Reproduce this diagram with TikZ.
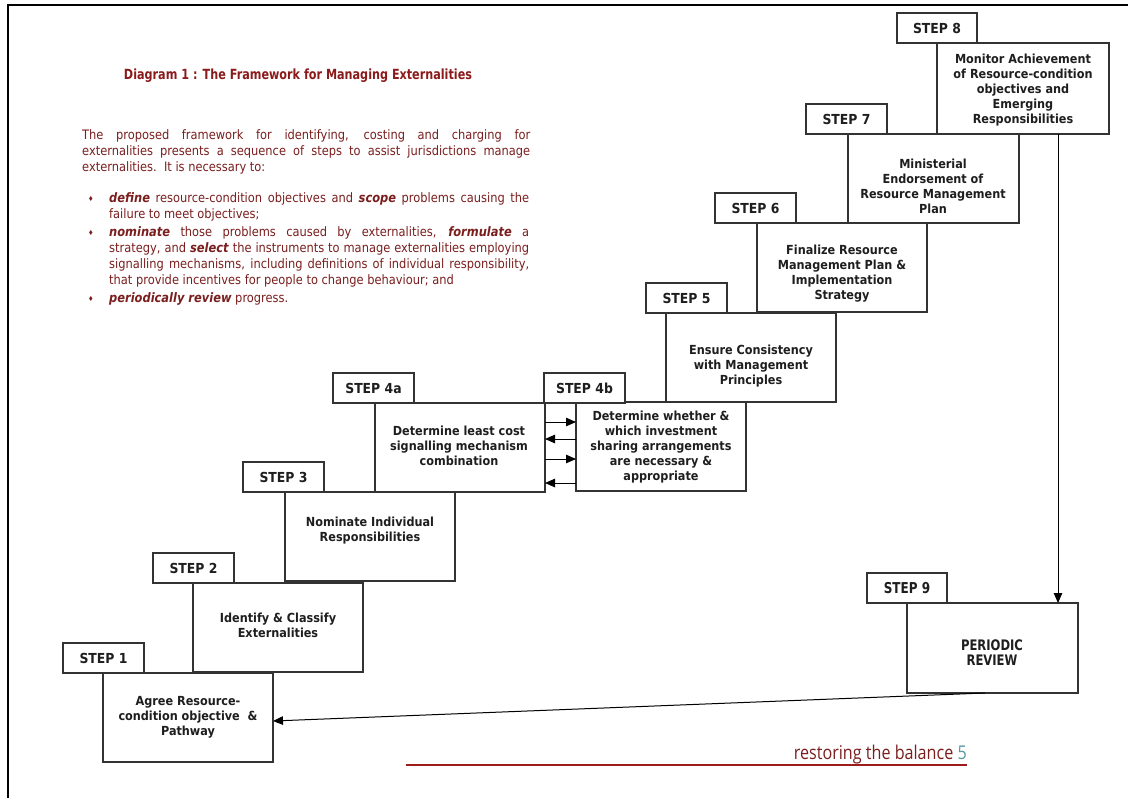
\documentclass[tikz,border=0pt]{standalone}
\usepackage{fontspec}
\setmainfont{DejaVu Sans}[FakeStretch=0.9]
\newfontfamily\bodyfam{DejaVu Sans}[FakeStretch=0.88]
\newfontfamily\titlefam{DejaVu Sans}[FakeStretch=0.8]
\newfontfamily\narrowfont{DejaVu Sans}[FakeStretch=0.8]
\newfontfamily\footfont{Open Sans}[FakeStretch=0.85]
\usetikzlibrary{arrows.meta}
\definecolor{dred}{HTML}{7A1E1E}
\definecolor{tred}{HTML}{8B1A1A}
\definecolor{lred}{HTML}{9E1B1B}
\definecolor{tealfive}{HTML}{5B9AA0}
\definecolor{ink}{HTML}{1E1E1E}
\definecolor{edge}{HTML}{333333}
\newcommand\emb[1]{\textbf{\textit{#1}}}
\newcommand\bul{\makebox[21pt][l]{\raisebox{1pt}{\fontsize{7}{7}\selectfont ♦}}}
\newcommand\bodyfont{\bodyfam\fontsize{13}{16}\selectfont}
\tikzset{
 stepbox/.style={draw=edge, line width=1.3pt, fill=white, minimum width=170pt, minimum height=89pt, inner sep=0pt, outer sep=0pt, anchor=north west},
 steplabel/.style={draw=edge, line width=1.3pt, fill=white, minimum width=81pt, minimum height=30pt, inner sep=0pt, outer sep=0pt, anchor=north west, font=\fontsize{13.8}{15}\selectfont\bfseries, text=ink},
 steptext/.style={align=center, font=\fontsize{12.5}{15}\selectfont\bfseries, text=ink, inner sep=0pt},
 arr/.style={draw=black, line width=1pt, -{Triangle[length=10pt,width=8.5pt]}},
 bodytext/.style={anchor=base west, inner sep=0pt, text=dred, font=\bodyfont}
}
\begin{document}
\begin{tikzpicture}[x=1pt,y=-1pt]
\useasboundingbox (0,0) rectangle (1128,798);
% page border
\draw[line width=2.5pt] (8,798) -- (8,5) -- (1128,5);
% title and text
\node[anchor=base, inner sep=0pt, font=\titlefam\fontsize{14}{16}\selectfont\bfseries, text=tred] (title) at (298,79) {Diagram 1 : The Framework for Managing Externalities};
\node[bodytext] (para) at (82,139) {\parbox[t]{448pt}{%
\makebox[448pt][s]{The proposed framework for identifying, costing and charging for}\\
\makebox[448pt][s]{externalities presents a sequence of steps to assist jurisdictions manage}\\
externalities.\ \ It is necessary to:}};
\node[bodytext] (bullets) at (88,202) {\parbox[t]{445pt}{%
\bul\makebox[420pt][s]{\emb{define} resource-condition objectives and \emb{scope} problems causing the}\\
\hspace*{21pt}failure to meet objectives;\\[2pt]
\bul\makebox[420pt][s]{\emb{nominate} those problems caused by externalities, \emb{formulate} a}\\
\hspace*{21pt}\makebox[420pt][s]{strategy, and \emb{select} the instruments to manage externalities employing}\\
\hspace*{21pt}\makebox[420pt][s]{signalling mechanisms, including definitions of individual responsibility,}\\
\hspace*{21pt}that provide incentives for people to change behaviour; and\\[2pt]
\bul\emb{periodically review} progress.}};
% steps
\node[stepbox] (b1) at (103,673) {};
\node[steplabel] (s1) at (63,643) {STEP 1};
\node[stepbox] (b2) at (193,583) {};
\node[steplabel] (s2) at (153,553) {STEP 2};
\node[stepbox] (b3) at (285,492) {};
\node[steplabel] (s3) at (243,462) {STEP 3};
\node[stepbox] (b4a) at (375,403) {};
\node[steplabel] (s4a) at (333,373) {STEP 4a};
\node[stepbox] (b4b) at (576,402) {};
\node[steplabel] (s4b) at (544,373) {STEP 4b};
\node[stepbox] (b5) at (666,313) {};
\node[steplabel] (s5) at (646,283) {STEP 5};
\node[stepbox] (b6) at (757,223) {};
\node[steplabel] (s6) at (715,193) {STEP 6};
\node[stepbox, minimum width=171pt] (b7) at (848,134) {};
\node[steplabel] (s7) at (806,104) {STEP 7};
\node[stepbox, minimum width=172pt, minimum height=91pt] (b8) at (937,43) {};
\node[steplabel, minimum width=80pt] (s8) at (897,13) {STEP 8};
\node[stepbox, minimum width=171pt, minimum height=90pt] (b9) at (907,603) {};
\node[steplabel, minimum width=80pt, font=\narrowfont\fontsize{15}{16}\selectfont\bfseries] (s9) at (867,573) {STEP 9};
% step texts
\node[steptext] (t1) at (188,717) {Agree Resource-\\condition objective\ \ \&\\Pathway};
\node[steptext] (t2) at (278,625) {Identify \& Classify\\Externalities};
\node[steptext] (t3) at (370,531) {Nominate Individual\\Responsibilities};
\node[steptext] (t4a) at (459,446) {Determine least cost\\signalling mechanism\\combination};
\node[steptext] (t4b) at (661,447) {Determine whether \&\\which investment\\sharing arrangements\\are necessary \&\\appropriate};
\node[steptext] (t5) at (751,366) {Ensure Consistency\\with Management\\Principles};
\node[steptext] (t6) at (842,274) {Finalize Resource\\Management Plan \&\\Implementation\\Strategy};
\node[steptext] (t7) at (933,186) {Ministerial\\Endorsement of\\Resource Management\\Plan};
\node[steptext] (t8) at (1023,90) {Monitor Achievement\\of Resource-condition\\objectives and\\Emerging\\Responsibilities};
\node[steptext, font=\narrowfont\fontsize{14.5}{15}\selectfont\bfseries] (t9) at (992,653) {PERIODIC\\REVIEW};
% arrows between 4a and 4b
\coordinate (r1) at (0,422);
\coordinate (r2) at (0,439);
\coordinate (r3) at (0,459);
\coordinate (r4) at (0,483);
\draw[arr] (b4a.east |- r1) -- (b4b.west |- r1);
\draw[arr] (b4b.west |- r2) -- (b4a.east |- r2);
\draw[arr] (b4a.east |- r3) -- (b4b.west |- r3);
\draw[arr] (b4b.west |- r4) -- (b4a.east |- r4);
% step 8 to step 9
\coordinate (ax) at (1058,0);
\draw[arr] (b8.south -| ax) -- (b9.north -| ax);
% step 9 back to step 1
\coordinate (rs) at (985,0);
\coordinate (re) at (0,721);
\draw[arr] (b9.south -| rs) -- (b1.east |- re);
% footer
\node[anchor=base east, inner sep=0pt, font=\footfont\fontsize{19}{22}\selectfont, text=dred] (foot) at (967,759) {restoring the balance \textcolor{tealfive}{5}};
\draw[lred, line width=2pt] (406,765) -- (foot.base east |- 0,765);
\end{tikzpicture}
\end{document}
